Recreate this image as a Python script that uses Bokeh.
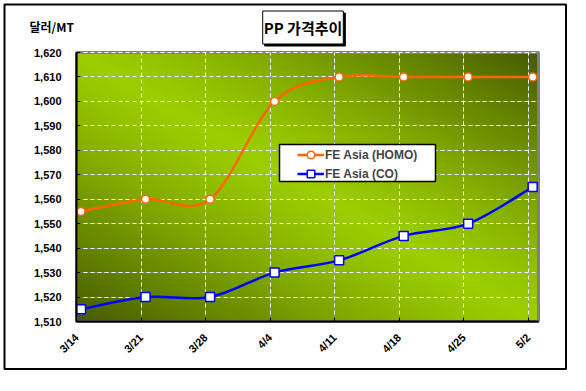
import numpy as np
from bokeh.plotting import figure
from bokeh.models import (Range1d, FixedTicker, NumeralTickFormatter, Label,
                          Legend, LegendItem, Grid)
from bokeh.embed import file_html
from bokeh.resources import INLINE

# ---- data ----
dates = ["3/14", "3/21", "3/28", "4/4", "4/11", "4/18", "4/25", "5/2"]
homo = [1555, 1560, 1560, 1600, 1610, 1610, 1610, 1610]
co = [1515, 1520, 1520, 1530, 1535, 1545, 1550, 1565]
y_ticks = [1510, 1520, 1530, 1540, 1550, 1560, 1570, 1580, 1590, 1600, 1610, 1620]
series_names = ["FE Asia (HOMO)", "FE Asia (CO)"]

# ---- layout (pixels of the canvas) ----
W, H = 570, 375
LEFT, TOP = 76, 52          # plot area top-left
FW, FH = 462, 269           # plot area size
X0, X1 = 0.0, 7.16
Y0, Y1 = 1510, 1620
OFF = 0.07


def dx(px):
    return X0 + (px - LEFT) / FW * (X1 - X0)


def dy(py):
    return Y1 - (py - TOP) / FH * (Y1 - Y0)


p = figure(width=W, height=H, output_backend="svg", toolbar_location=None,
           x_range=Range1d(dx(0), dx(W)), y_range=Range1d(dy(H), dy(0)),
           min_border=0, min_border_left=0, min_border_right=0,
           min_border_top=0, min_border_bottom=0,
           background_fill_color="white", border_fill_color="white")
p.outline_line_color = None

# gradient background of the plot area
ny, nx = 135, 231
u = np.linspace(0, 1, nx)[None, :]
v = np.linspace(0, 1, ny)[:, None]
t = np.clip(np.abs(u - (1 - v)), 0, 1)  # image row 0 is bottom
t = t ** 1.25
bright = np.array([156, 206, 0])
dark = np.array([70, 90, 0])
img = np.empty((ny, nx), dtype=np.uint32)
view = img.view(dtype=np.uint8).reshape((ny, nx, 4))
for k in range(3):
    view[:, :, k] = (bright[k] + (dark[k] - bright[k]) * t).astype(np.uint8)
view[:, :, 3] = 255
p.image_rgba(image=[img], x=X0, y=Y0, dw=X1 - X0, dh=Y1 - Y0, level="image")

# plot-area border (gray) and outer chart border (black)
p.quad(left=X0, right=X1, bottom=Y0, top=Y1, fill_color=None,
       line_color="#808080", line_width=3, level="underlay")
p.quad(left=dx(4), right=dx(565.5), top=dy(4), bottom=dy(368.5), fill_color=None,
       line_color="black", line_width=2)

# axes fixed at the plot-area edges
xt = FixedTicker(ticks=list(range(len(dates))))
yt = FixedTicker(ticks=y_ticks)
p.xaxis.ticker = xt
p.xaxis.major_label_overrides = {i: d for i, d in enumerate(dates)}
p.xaxis.major_label_orientation = np.pi / 4
p.yaxis.ticker = yt
p.yaxis.formatter = NumeralTickFormatter(format="0,0")
p.xaxis.fixed_location = Y0
p.yaxis.fixed_location = X0
p.xaxis.bounds = (X0, X1)
p.yaxis.bounds = (Y0, Y1)
for ax in (p.xaxis, p.yaxis):
    ax.axis_line_color = "black"
    ax.axis_line_width = 2
    ax.major_tick_in = 4
    ax.major_tick_out = 0
    ax.major_tick_line_color = "black"
    ax.minor_tick_line_color = None
    ax.major_label_text_font = "Liberation Sans"
    ax.major_label_text_font_style = "bold"
    ax.major_label_text_font_size = "11px"
    ax.major_label_text_color = "black"
p.yaxis.major_label_standoff = 15
p.xaxis.major_label_standoff = 14

# grids: gray base with white dashes, limited to the plot area
p.xgrid.grid_line_color = "#8a8a8a"
p.ygrid.grid_line_color = "#8a8a8a"
for g in (p.xgrid, p.ygrid):
    g.grid_line_alpha = 0.55
    g.grid_line_width = 1
p.xgrid.cross_bounds = (Y0, Y1)
p.ygrid.cross_bounds = (X0, X1)
p.add_layout(Grid(dimension=0, ticker=xt, grid_line_color="white", bounds=(X0, X1),
                  cross_bounds=(Y0, Y1), grid_line_dash="4 3", grid_line_width=1))
p.add_layout(Grid(dimension=1, ticker=yt, grid_line_color="white", bounds=(Y0, Y1),
                  cross_bounds=(X0, X1), grid_line_dash="4 3", grid_line_width=1))


def bezier_parts(xs, ys):
    n = len(xs)

    def P(i):
        i = max(0, min(n - 1, i))
        return xs[i], ys[i]
    out = {k: [] for k in ("x0", "y0", "x1", "y1", "cx0", "cy0", "cx1", "cy1")}
    for i in range(n - 1):
        p0, p1, p2, p3 = P(i - 1), P(i), P(i + 1), P(i + 2)
        out["x0"].append(p1[0]); out["y0"].append(p1[1])
        out["x1"].append(p2[0]); out["y1"].append(p2[1])
        out["cx0"].append(p1[0] + (p2[0] - p0[0]) / 6)
        out["cy0"].append(p1[1] + (p2[1] - p0[1]) / 6)
        out["cx1"].append(p2[0] - (p3[0] - p1[0]) / 6)
        out["cy1"].append(p2[1] - (p3[1] - p1[1]) / 6)
    return out


xs = [i + OFF for i in range(len(dates))]
items = []
for vals, col, marker, msize, name in ((homo, "#ff6600", "circle", 8, series_names[0]),
                                        (co, "#0000ff", "square", 9, series_names[1])):
    bz = bezier_parts(xs, vals)
    br = p.bezier(line_color=col, line_width=2.5, **bz)
    sc = p.scatter(xs, vals, marker=marker, size=msize, fill_color="white",
                   line_color=col, line_width=1.5)
    items.append(LegendItem(label=name, renderers=[br, sc]))

# legend box and entries
p.quad(left=dx(279), right=dx(435), top=dy(144), bottom=dy(181),
       fill_color="white", line_color="black", line_width=1.5)
legend = Legend(items=items, location=(297, H - 183), padding=0, spacing=0,
                label_height=19, glyph_height=19, glyph_width=27, label_standoff=1,
                background_fill_alpha=0, border_line_color=None,
                label_text_font="Liberation Sans", label_text_font_style="bold",
                label_text_font_size="12px", margin=0)
p.add_layout(legend, "center")

# ---- texts ----
title_kw = dict(x=dx(302.5), y=dy(27), text="PP 가격추이", text_font="Noto Sans CJK KR",
                text_font_style="bold", text_font_size="15px", text_align="center",
                text_baseline="middle", padding=(1, 6), border_line_width=1)
p.add_layout(Label(x_offset=2, y_offset=-2, background_fill_color="black",
                   border_line_color="black", text_color="black", **title_kw))
p.add_layout(Label(background_fill_color="white", border_line_color="black",
                   text_color="black", **title_kw))
p.add_layout(Label(x=dx(29), y=dy(26), text="달러/MT", text_font="Noto Sans CJK KR",
                   text_font_style="bold", text_font_size="12px", text_align="left",
                   text_baseline="middle", text_color="black"))

open("out.html", "w").write(file_html(p, INLINE))
